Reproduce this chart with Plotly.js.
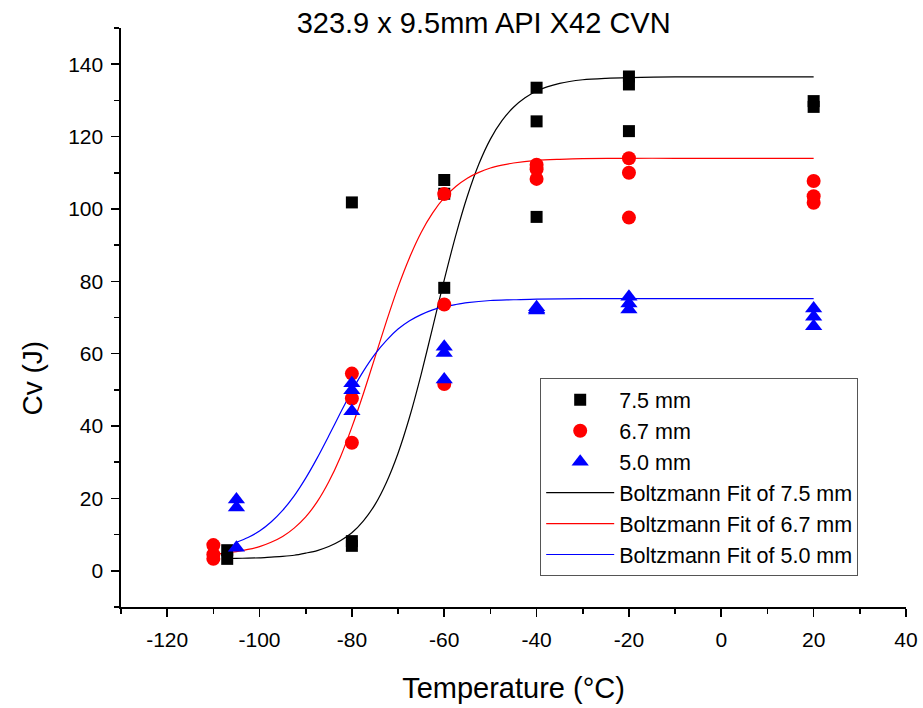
<!DOCTYPE html>
<html>
<head>
<meta charset="utf-8">
<script src="https://cdn.plot.ly/plotly-3.0.1.min.js"></script>
<style>html,body{margin:0;padding:0;background:#fff;}#chart{width:923px;height:708px;}</style>
</head>
<body>
<div id="chart"></div>
<script>
// ---- measured data (Charpy V-notch energy, J) ----
const x75 = [-107, -107, -80, -80, -80, -60, -60, -60, -40, -40, -40, -20, -20, -20, 20, 20];
const y75 = [5.7, 3.3, 101.8, 8.2, 6.9, 108.0, 104.2, 78.2, 133.5, 124.2, 97.8, 136.6, 134.4, 121.5, 129.8, 128.2];

const x67 = [-110, -110, -110, -80, -80, -80, -60, -60, -60, -40, -40, -40, -20, -20, -20, 20, 20, 20];
const y67 = [7.1, 4.5, 3.3, 54.5, 47.6, 35.4, 104.1, 73.6, 51.6, 112.2, 111.0, 108.3, 114.0, 110.0, 97.6, 107.7, 103.5, 101.7];

const x50 = [-105, -105, -105, -80, -80, -80, -60, -60, -60, -40, -40, -40, -20, -20, -20, 20, 20, 20];
const y50 = [19.7, 17.5, 6.4, 51.8, 49.9, 44.1, 61.9, 60.2, 52.9, 72.8, 72.3, 71.9, 75.7, 73.9, 72.2, 72.5, 70.2, 67.6];

// ---- fitted curves ----
const fitX75 = [-107, -105, -102.5, -100, -97.5, -95, -92.5, -90, -87.5, -85, -82.5, -80, -77.5, -75, -72.5, -70, -67.5, -65, -62.5, -60, -57.5, -55, -52.5, -50, -47.5, -45, -42.5, -40, -35, -30, -25, -20, -10, 0, 10, 20];
const fitY75 = [3.4, 3.45, 3.5, 3.6, 3.8, 4.0, 4.3, 4.9, 5.6, 6.7, 8.3, 10.5, 13.8, 18.3, 24.5, 32.5, 42.5, 54.3, 67.3, 80.4, 92.7, 103.5, 112.4, 119.3, 124.4, 128.1, 130.7, 132.6, 134.7, 135.7, 136.1, 136.3, 136.5, 136.5, 136.5, 136.5];

const fitX67 = [-110, -107.5, -105, -102.5, -100, -97.5, -95, -92.5, -90, -87.5, -85, -82.5, -80, -77.5, -75, -72.5, -70, -67.5, -65, -62.5, -60, -57.5, -55, -52.5, -50, -47.5, -45, -40, -35, -30, -20, -10, 0, 10, 20];
const fitY67 = [4.6, 4.9, 5.3, 5.9, 6.7, 7.9, 9.5, 11.8, 14.9, 19.1, 24.6, 31.4, 39.7, 49.0, 59.0, 69.0, 78.4, 86.6, 93.5, 98.9, 103.1, 106.2, 108.5, 110.1, 111.3, 112.1, 112.7, 113.4, 113.7, 113.9, 114.0, 114.0, 114.0, 114.0, 114.0];

const fitX50 = [-105, -102.5, -100, -97.5, -95, -92.5, -90, -87.5, -85, -82.5, -80, -77.5, -75, -72.5, -70, -67.5, -65, -62.5, -60, -57.5, -55, -50, -45, -40, -30, -20, 0, 20];
const fitY50 = [7.9, 9.2, 11.0, 13.5, 16.7, 20.7, 25.6, 31.2, 37.3, 43.6, 49.7, 55.2, 59.9, 63.7, 66.8, 69.1, 70.8, 72.1, 73.0, 73.6, 74.1, 74.7, 74.9, 75.1, 75.2, 75.2, 75.2, 75.2];

// ---- axis ticks ----
const xTickVals = [-120, -100, -80, -60, -40, -20, 0, 20, 40];
const xTickText = ['-120', '-100', '-80', '-60', '-40', '-20', '0', '20', '40'];
const yTickVals = [0, 20, 40, 60, 80, 100, 120, 140];
const yTickText = ['0', '20', '40', '60', '80', '100', '120', '140'];

const FONT = 'Liberation Sans, Arial, sans-serif';

const traces = [
  {x: fitX75, y: fitY75, mode: 'lines', name: 'Boltzmann Fit of 7.5 mm', legendrank: 4,
   line: {color: '#000000', width: 1.2, shape: 'spline', smoothing: 0.8}},
  {x: fitX67, y: fitY67, mode: 'lines', name: 'Boltzmann Fit of 6.7 mm', legendrank: 5,
   line: {color: '#ff0000', width: 1.2, shape: 'spline', smoothing: 0.8}},
  {x: fitX50, y: fitY50, mode: 'lines', name: 'Boltzmann Fit of 5.0 mm', legendrank: 6,
   line: {color: '#0000ff', width: 1.2, shape: 'spline', smoothing: 0.8}},
  {x: x75, y: y75, mode: 'markers', name: '7.5 mm', legendrank: 1,
   marker: {symbol: 'square', color: '#000000', size: 12}},
  {x: x67, y: y67, mode: 'markers', name: '6.7 mm', legendrank: 2,
   marker: {symbol: 'circle', color: '#ff0000', size: 14}},
  {x: x50, y: y50, mode: 'markers', name: '5.0 mm', legendrank: 3,
   marker: {symbol: 'triangle-up', color: '#0000ff', size: 15}}
];

const layout = {
  width: 923, height: 708,
  margin: {l: 121, r: 17, t: 28, b: 101, pad: 0},
  paper_bgcolor: '#ffffff', plot_bgcolor: '#ffffff',
  font: {family: FONT, color: '#000000', size: 21},
  showlegend: true,
  title: {text: '323.9 x 9.5mm API X42 CVN', font: {family: FONT, size: 29, color: '#000'},
          x: 0.524, xref: 'container', xanchor: 'center', y: 0.968, yref: 'container', yanchor: 'middle'},
  xaxis: {
    range: [-130, 40], showgrid: false, zeroline: false,
    showline: true, linecolor: '#000', linewidth: 1.6, mirror: false,
    ticks: 'outside', ticklen: 8, tickwidth: 1.6, tickcolor: '#000',
    tickmode: 'array', tickvals: xTickVals, ticktext: xTickText,
    tickfont: {family: FONT, size: 21, color: '#000'}, ticklabelstandoff: 5,
    minor: {dtick: 10, tick0: 0, ticks: 'outside', ticklen: 5, tickwidth: 1.6, tickcolor: '#000', showgrid: false},
    title: {text: 'Temperature (°C)', font: {family: FONT, size: 29, color: '#000'}, standoff: 28}
  },
  yaxis: {
    range: [-10, 150], showgrid: false, zeroline: false,
    showline: true, linecolor: '#000', linewidth: 1.6, mirror: false,
    ticks: 'outside', ticklen: 8, tickwidth: 1.6, tickcolor: '#000',
    tickmode: 'array', tickvals: yTickVals, ticktext: yTickText,
    tickfont: {family: FONT, size: 21, color: '#000'}, ticklabelstandoff: 4,
    minor: {dtick: 10, tick0: 0, ticks: 'outside', ticklen: 5, tickwidth: 1.6, tickcolor: '#000', showgrid: false}
  },
  annotations: [
    {text: 'Cv (J)', xref: 'paper', yref: 'paper', x: -0.113, y: 0.395, xanchor: 'center', yanchor: 'middle',
     textangle: -90, showarrow: false, font: {family: FONT, size: 28, color: '#000'}}
  ],
  legend: {
    x: 0.534, y: 0.395, xanchor: 'left', yanchor: 'top',
    bgcolor: '#ffffff', bordercolor: '#555555', borderwidth: 1,
    font: {family: FONT, size: 21.5, color: '#000'},
    itemwidth: 68, tracegroupgap: 0, traceorder: 'normal'
  }
};

Plotly.newPlot('chart', traces, layout, {displayModeBar: false, staticPlot: true});
</script>
</body>
</html>
